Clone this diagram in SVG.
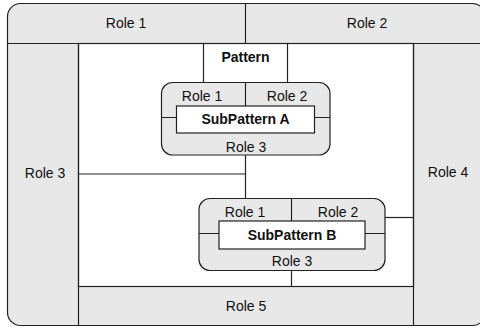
<svg xmlns="http://www.w3.org/2000/svg" width="480" height="328" viewBox="0 0 480 328">
<style>
.g{fill:#e8e8e8;stroke:#222;stroke-width:1.2}
.w{fill:#fff;stroke:#222;stroke-width:1.2}
.l{fill:none;stroke:#222;stroke-width:1.2}
text{font-family:"Liberation Sans",Arial,sans-serif;font-size:14px;fill:#111;text-anchor:middle}
.b{font-weight:bold}
</style>
<rect width="480" height="328" fill="#fff"/>
<g id="frame">
<rect class="g" x="7.5" y="3.5" width="478" height="322" rx="13"/>
<rect class="w" x="78.5" y="43.5" width="335" height="243"/>
<line class="l" x1="7.5" y1="43.5" x2="485.5" y2="43.5"/>
<line class="l" x1="78.5" y1="43.5" x2="78.5" y2="325.5"/>
<line class="l" x1="413.5" y1="43.5" x2="413.5" y2="325.5"/>
</g>
<g id="role1-top"><line class="l" x1="245.5" y1="3.5" x2="245.5" y2="43.5"/><text x="126" y="28">Role 1</text></g>
<g id="role2-top"><text x="367" y="28">Role 2</text></g>
<g id="role3-left"><text x="45" y="178">Role 3</text></g>
<g id="role4-right"><text x="448" y="177">Role 4</text></g>
<g id="role5-bottom"><text x="246" y="311">Role 5</text></g>
<g id="pattern"><text class="b" x="245.5" y="62">Pattern</text></g>
<g id="connectors">
<line class="l" x1="203.5" y1="43.5" x2="203.5" y2="82.5"/>
<line class="l" x1="287.5" y1="43.5" x2="287.5" y2="82.5"/>
<line class="l" x1="245.5" y1="155" x2="245.5" y2="198.5"/>
<line class="l" x1="78.5" y1="174" x2="245.5" y2="174"/>
<line class="l" x1="385" y1="217.5" x2="413.5" y2="217.5"/>
<line class="l" x1="291.5" y1="270.5" x2="291.5" y2="286.5"/>
</g>
<g id="subpatternA">
<rect class="g" x="161.5" y="82.5" width="168.5" height="72.5" rx="11"/>
<line class="l" x1="245.5" y1="82.5" x2="245.5" y2="106"/>
<line class="l" x1="161.5" y1="117.5" x2="330" y2="117.5"/>
<rect class="w" x="176.5" y="106" width="138" height="27"/>
<text x="202" y="101">Role 1</text>
<text x="287" y="101">Role 2</text>
<text class="b" x="245.5" y="124">SubPattern A</text>
<text x="246" y="151.5">Role 3</text>
</g>
<g id="subpatternB">
<rect class="g" x="199" y="198.5" width="186" height="72" rx="11"/>
<line class="l" x1="291.5" y1="198.5" x2="291.5" y2="221"/>
<line class="l" x1="199" y1="233.5" x2="385" y2="233.5"/>
<rect class="w" x="219" y="221" width="146" height="28"/>
<text x="245" y="217">Role 1</text>
<text x="338" y="217">Role 2</text>
<text class="b" x="292" y="239.5">SubPattern B</text>
<text x="292" y="266">Role 3</text>
</g>
</svg>
